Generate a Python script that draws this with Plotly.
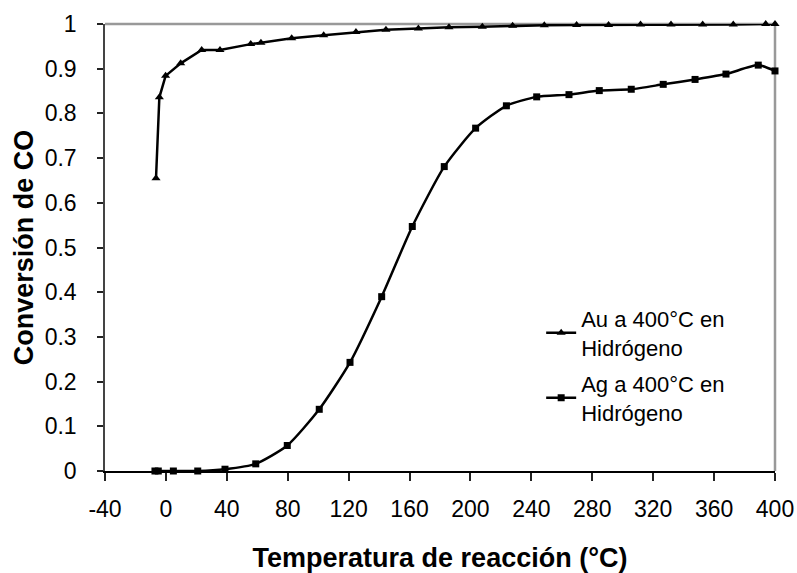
import plotly.graph_objects as go

# Au a 400°C en Hidrógeno (triangles)
au_temp = [-6.5, -4.3, -0.2, 9.7, 23.5, 35.5, 55.7, 62.4, 82.6, 103.6, 124.8, 144.5,
           165.8, 185.9, 207.8, 227.7, 248.5, 269.7, 290.7, 311.7, 331.7, 352.5, 372.6, 393.9, 400]
au_conv = [0.655, 0.836, 0.884, 0.912, 0.942, 0.942, 0.955, 0.958, 0.968, 0.975, 0.982, 0.987,
           0.990, 0.993, 0.994, 0.996, 0.997, 0.998, 0.998, 0.999, 0.999, 0.999, 0.999, 1.0, 1.0]

# Ag a 400°C en Hidrógeno (squares)
ag_temp = [-7.2, -5.0, 4.9, 20.9, 38.8, 59.0, 79.7, 100.7, 120.9, 141.7, 161.8, 182.8,
           203.4, 223.6, 243.5, 264.7, 284.6, 305.6, 326.6, 347.5, 367.8, 389.0, 400]
ag_conv = [0.0, 0.0, 0.0, 0.0, 0.004, 0.016, 0.057, 0.138, 0.243, 0.390, 0.547, 0.681,
           0.767, 0.817, 0.837, 0.842, 0.851, 0.854, 0.865, 0.876, 0.888, 0.908, 0.895]

x_ticks = [-40, 0, 40, 80, 120, 160, 200, 240, 280, 320, 360, 400]
x_tick_text = ["-40", "0", "40", "80", "120", "160", "200", "240", "280", "320", "360", "400"]
y_ticks = [0, 0.1, 0.2, 0.3, 0.4, 0.5, 0.6, 0.7, 0.8, 0.9, 1]
y_tick_text = ["0", "0.1", "0.2", "0.3", "0.4", "0.5", "0.6", "0.7", "0.8", "0.9", "1"]

FONT = "Liberation Sans, Arial, sans-serif"

fig = go.Figure()
fig.add_trace(go.Scatter(
    x=au_temp, y=au_conv, mode="lines+markers",
    name="Au a 400°C en<br>Hidrógeno", legendgroup="au",
    line=dict(color="black", width=2.5),
    marker=dict(symbol="triangle-up", size=8, color="black"),
    cliponaxis=False,
))
fig.add_trace(go.Scatter(
    x=ag_temp, y=ag_conv, mode="lines+markers",
    name="Ag a 400°C en<br>Hidrógeno", legendgroup="ag",
    line=dict(color="black", width=2.5, shape="spline", smoothing=0.6),
    marker=dict(symbol="square", size=7, color="black"),
    cliponaxis=False,
))

# plot-area border (top and right) in grey, like the original
fig.add_shape(type="line", xref="paper", yref="paper", x0=0, x1=1, y0=1, y1=1,
              line=dict(color="#999999", width=2.5), layer="below")
fig.add_shape(type="line", xref="paper", yref="paper", x0=1, x1=1, y0=0, y1=1,
              line=dict(color="#999999", width=2.5), layer="below")

fig.update_layout(
    width=797, height=573,
    margin=dict(l=105, r=22, t=24, b=102, autoexpand=False),
    paper_bgcolor="white", plot_bgcolor="white",
    font=dict(family=FONT, size=22, color="black"),
    showlegend=True,
    legend=dict(
        x=0.651, y=0.388, xanchor="left", yanchor="top",
        bgcolor="rgba(0,0,0,0)", font=dict(size=22, family=FONT),
        tracegroupgap=5,
    ),
    xaxis=dict(
        range=[-40, 400], tickmode="array", tickvals=x_ticks, ticktext=x_tick_text,
        ticks="outside", ticklen=8, tickwidth=1.5, tickcolor="#222222",
        showline=True, linecolor="black", linewidth=1.5,
        showgrid=False, zeroline=False, automargin=False,
        tickfont=dict(size=23, family=FONT),
        ticklabelstandoff=9,
        title=dict(text="<b>Temperatura de reacción (°C)</b>",
                   font=dict(size=27, family=FONT), standoff=28),
    ),
    yaxis=dict(
        range=[0, 1], tickmode="array", tickvals=y_ticks, ticktext=y_tick_text,
        ticks="outside", ticklen=6, tickwidth=1.5, tickcolor="#222222",
        showline=True, linecolor="#444444", linewidth=1.5,
        showgrid=False, zeroline=False, automargin=False,
        tickfont=dict(size=23, family=FONT),
        ticklabelstandoff=16,
        title=dict(text="<b>Conversión de CO</b>",
                   font=dict(size=27, family=FONT), standoff=3),
    ),
)

fig.write_html("out.html")
